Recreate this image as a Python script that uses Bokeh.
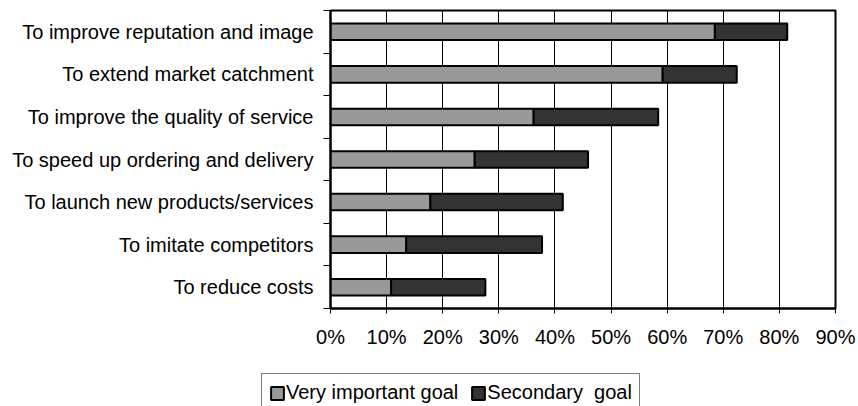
from bokeh.plotting import figure
from bokeh.models import (Range1d, FixedTicker, NumeralTickFormatter, Legend,
                          LegendItem, ColumnDataSource)
from bokeh.embed import file_html
from bokeh.resources import INLINE

categories = [
    "To improve reputation and image",
    "To extend market catchment",
    "To improve the quality of service",
    "To speed up ordering and delivery",
    "To launch new products/services",
    "To imitate competitors",
    "To reduce costs",
]
very_important = [0.685, 0.592, 0.362, 0.257, 0.178, 0.135, 0.108]
secondary = [0.129, 0.132, 0.222, 0.202, 0.236, 0.242, 0.168]
series_names = ["Very important goal", "Secondary  goal"]
series_colors = ["#999999", "#333333"]
x_ticks = [0.0, 0.1, 0.2, 0.3, 0.4, 0.5, 0.6, 0.7, 0.8, 0.9]

FONT = "Liberation Sans"
n = len(categories)
y_pos = [n - i - 0.5 for i in range(n)]

src = ColumnDataSource(dict(y=y_pos, very=very_important, secondary=secondary,
                            cat=categories))

p = figure(width=858, height=370, output_backend="svg", toolbar_location=None,
           x_range=Range1d(0, x_ticks[-1]), y_range=Range1d(0, n),
           min_border_left=330, min_border_right=23, min_border_top=10,
           min_border_bottom=62)
p.background_fill_color = "white"
p.border_fill_color = "white"
p.outline_line_color = "black"
p.outline_line_width = 2

p.hbar_stack(["very", "secondary"], y="y", height=0.39, source=src,
             fill_color=series_colors, line_color="black", line_width=2)

# x axis
xa = p.xaxis[0]
xa.ticker = FixedTicker(ticks=x_ticks)
xa.formatter = NumeralTickFormatter(format="0%")
xa.axis_line_color = "black"
xa.axis_line_width = 2
xa.major_tick_in = 0
xa.major_tick_out = 5
xa.major_tick_line_color = "black"
xa.minor_tick_line_color = None
xa.major_label_text_font = FONT
xa.major_label_text_font_size = "20px"
xa.major_label_text_color = "black"
xa.major_label_standoff = 12

# y axis
ya = p.yaxis[0]
ya.ticker = FixedTicker(ticks=y_pos, minor_ticks=list(range(n + 1)))
ya.major_label_overrides = {y: c for y, c in zip(y_pos, categories)}
ya.axis_line_color = "black"
ya.axis_line_width = 2
ya.major_tick_in = 0
ya.major_tick_out = 0
ya.minor_tick_in = 0
ya.minor_tick_out = 7
ya.minor_tick_line_color = "black"
ya.major_label_text_font = FONT
ya.major_label_text_font_size = "20px"
ya.major_label_text_color = "black"
ya.major_label_standoff = 10

p.xgrid.ticker = FixedTicker(ticks=x_ticks)
p.xgrid.grid_line_color = "black"
p.xgrid.grid_line_width = 1
p.ygrid.visible = False

# legend strip below the chart (same series, hidden; only the legend shows)
lp = figure(width=858, height=36, output_backend="svg", toolbar_location=None,
            x_range=Range1d(0, 1), y_range=Range1d(0, 1),
            x_axis_location=None, y_axis_location=None,
            min_border_left=0, min_border_right=0, min_border_top=0,
            min_border_bottom=0)
lp.outline_line_color = None
lp.grid.visible = False
lp.border_fill_color = "white"
lp.background_fill_color = "white"
lrs = lp.hbar_stack(["very", "secondary"], y="y", height=0.39, source=src,
                    fill_color=series_colors, line_color="black", line_width=2)
for r in lrs:
    r.visible = False
items = [LegendItem(label=name, renderers=[r]) for name, r in zip(series_names, lrs)]

legend = Legend(
    items=items, orientation="horizontal", location=(261, -6), margin=0,
    padding=7, spacing=12, label_standoff=1, glyph_width=16, glyph_height=16,
    label_height=18, label_text_line_height=0.8,
    label_text_font=FONT, label_text_font_size="20px", label_text_color="black",
    border_line_color="black", border_line_width=1, background_fill_color="white",
    background_fill_alpha=1.0, inactive_fill_alpha=0.0)
lp.add_layout(legend, "center")

open("out.html", "w").write(file_html([p, lp], INLINE))
